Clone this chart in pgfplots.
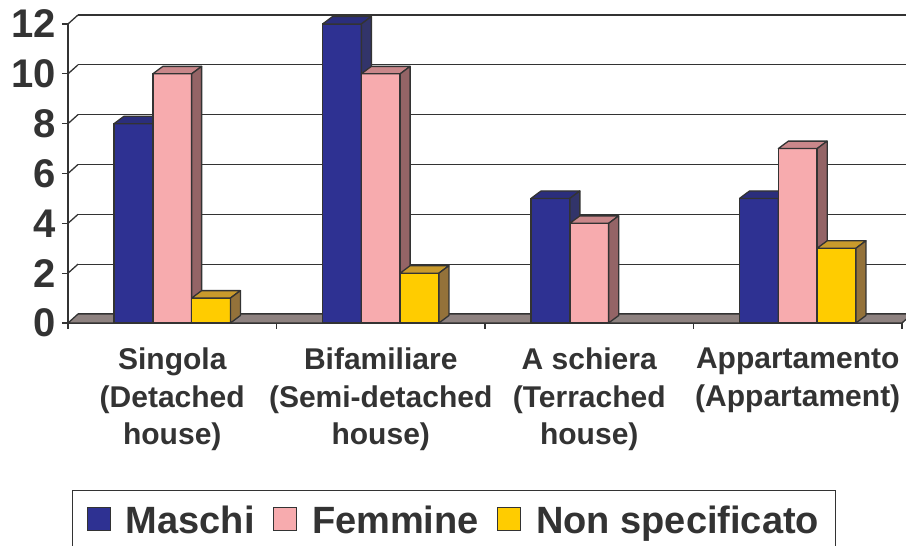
\documentclass[border=0pt]{standalone}
\usepackage{fontspec}
\setmainfont{Liberation Sans}
\usepackage{pgfplots}
\pgfplotsset{compat=1.18}
\definecolor{lineC}{HTML}{333333}
\definecolor{textC}{HTML}{333333}
\definecolor{blueF}{HTML}{2E3192}
\definecolor{blueT}{HTML}{2B2E7C}
\definecolor{blueS}{HTML}{32346A}
\definecolor{pinkF}{HTML}{F7ABAE}
\definecolor{pinkT}{HTML}{C9878A}
\definecolor{pinkS}{HTML}{946466}
\definecolor{yelF}{HTML}{FFCC00}
\definecolor{yelT}{HTML}{C99A2C}
\definecolor{yelS}{HTML}{94723A}
\definecolor{floorC}{HTML}{8E8280}
\newcommand{\face}[2]{\addplot[fill=#1, draw=lineC, line width=1.3pt, line join=round, forget plot] coordinates {#2} -- cycle;}
\begin{document}
\begin{tikzpicture}
\useasboundingbox (0,0) rectangle (906pt,546pt);
\clip (0,0) rectangle (906pt,546pt);
\begin{axis}[
  at={(68pt,223pt)}, anchor=south west,
  scale only axis, width=834pt, height=299pt,
  xmin=-0.5, xmax=3.5, ymin=0, ymax=12,
  clip=false,
  axis x line*=bottom, axis y line*=left,
  axis line style={draw=lineC, line width=1.3pt},
  ytick={0,2,...,12},
  xtick={-0.5,0.5,1.5,2.5,3.5},
  xticklabels={\empty,\empty,\empty,\empty,\empty},
  extra x ticks={0,1,2,3},
  extra x tick labels={{Singola\\(Detached\\house)},{Bifamiliare\\(Semi-detached\\house)},{A schiera\\(Terrached\\house)},{Appartamento\\(Appartament)}},
  extra x tick style={major tick length=0pt, xticklabel style={align=center, anchor=north, inner sep=0pt, yshift=-25pt, font=\fontsize{30}{37.5}\selectfont\bfseries, text=textC}},
  tick align=outside,
  major tick length=6pt,
  tick style={draw=lineC, line width=1.3pt},
  /pgf/number format/assume math mode=true,
  yticklabel style={font=\fontsize{40}{40}\selectfont\bfseries, text=textC, anchor=east, inner sep=0pt, xshift=-6pt},
  ymajorgrids,
  major grid style={draw=lineC, line width=1.3pt, xshift=10pt, yshift=9pt},
  legend columns=3,
  legend image code/.code={\draw[#1, draw=lineC, line width=1.3pt] (0pt,-10pt) rectangle (23pt,13pt);},
  legend style={at={(axis description cs:0.0048,-0.5585)}, anchor=north west,
    draw=lineC, line width=1.3pt, font=\fontsize{38}{44}\selectfont\bfseries, text=textC,
    inner xsep=14pt, inner ysep=13pt,
    /tikz/every odd column/.append style={column sep=13pt},
    /tikz/every even column/.append style={column sep=16pt}},
]
% left wall edges
\pgfplotsinvokeforeach{2,4,...,12}{\draw[lineC, line width=1.3pt] (axis cs:-0.5,#1) -- ++(10pt,9pt);}
% floor
\face{floorC}{(-0.5,0) (-0.452,0.361) (3.548,0.361) (3.5,0)}
% Maschi
\addplot[ybar, bar width=0.186, bar shift=-0.186, fill=blueF, draw=lineC, line width=1.3pt]
  coordinates {(0,8) (1,12) (2,5) (3,5)};
\addlegendentry{Maschi}
\face{blueT}{(-0.279,8) (-0.231,8.3) (-0.045,8.3) (-0.093,8)}
\face{blueS}{(-0.093,0) (-0.045,0.3) (-0.045,8.3) (-0.093,8)}
\face{blueT}{(0.721,12) (0.769,12.3) (0.955,12.3) (0.907,12)}
\face{blueS}{(0.907,0) (0.955,0.3) (0.955,12.3) (0.907,12)}
\face{blueT}{(1.721,5) (1.769,5.3) (1.955,5.3) (1.907,5)}
\face{blueS}{(1.907,0) (1.955,0.3) (1.955,5.3) (1.907,5)}
\face{blueT}{(2.721,5) (2.769,5.3) (2.955,5.3) (2.907,5)}
\face{blueS}{(2.907,0) (2.955,0.3) (2.955,5.3) (2.907,5)}
% Femmine
\addplot[ybar, bar width=0.186, bar shift=0, fill=pinkF, draw=lineC, line width=1.3pt]
  coordinates {(0,10) (1,10) (2,4) (3,7)};
\addlegendentry{Femmine}
\face{pinkT}{(-0.093,10) (-0.045,10.3) (0.141,10.3) (0.093,10)}
\face{pinkS}{(0.093,0) (0.141,0.3) (0.141,10.3) (0.093,10)}
\face{pinkT}{(0.907,10) (0.955,10.3) (1.141,10.3) (1.093,10)}
\face{pinkS}{(1.093,0) (1.141,0.3) (1.141,10.3) (1.093,10)}
\face{pinkT}{(1.907,4) (1.955,4.3) (2.141,4.3) (2.093,4)}
\face{pinkS}{(2.093,0) (2.141,0.3) (2.141,4.3) (2.093,4)}
\face{pinkT}{(2.907,7) (2.955,7.3) (3.141,7.3) (3.093,7)}
\face{pinkS}{(3.093,0) (3.141,0.3) (3.141,7.3) (3.093,7)}
% Non specificato
\addplot[ybar, bar width=0.186, bar shift=0.186, fill=yelF, draw=lineC, line width=1.3pt]
  coordinates {(0,1) (1,2) (3,3)};
\addlegendentry{Non specificato}
\face{yelT}{(0.093,1) (0.141,1.3) (0.327,1.3) (0.279,1)}
\face{yelS}{(0.279,0) (0.327,0.3) (0.327,1.3) (0.279,1)}
\face{yelT}{(1.093,2) (1.141,2.3) (1.327,2.3) (1.279,2)}
\face{yelS}{(1.279,0) (1.327,0.3) (1.327,2.3) (1.279,2)}
\face{yelT}{(3.093,3) (3.141,3.3) (3.327,3.3) (3.279,3)}
\face{yelS}{(3.279,0) (3.327,0.3) (3.327,3.3) (3.279,3)}
\end{axis}
\end{tikzpicture}
\end{document}
